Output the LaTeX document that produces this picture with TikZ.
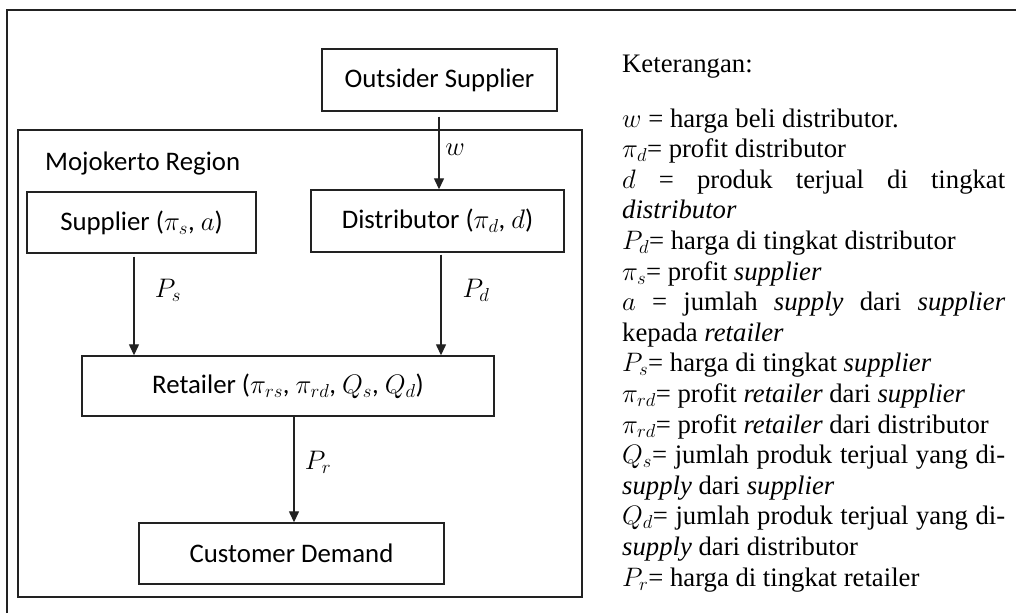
\RequirePackage{fix-cm}
\documentclass[tikz,border=0pt]{standalone}
\usepackage{fontspec}
\setmainfont{Liberation Serif}
\newfontfamily\diagfont{Carlito}
\usetikzlibrary{arrows.meta}
\newcommand\diagsize{\fontsize{26.8}{30}\selectfont}
\newcommand\legsize{\fontsize{26.7}{30.6}\selectfont}
\definecolor{linec}{HTML}{222222}
\begin{document}
\begin{tikzpicture}[x=1pt,y=-1pt,
  box/.style={draw=linec, line width=1.4pt, inner sep=0pt, font=\diagsize\diagfont},
  arr/.style={draw=linec, line width=1.3pt, -{Triangle[length=11pt,width=10pt]}},
  lbl/.style={inner sep=0pt, font=\diagsize},
  legend/.style={anchor=base west, inner sep=0pt, font=\legsize}]
\useasboundingbox (0,0) rectangle (1016,613);
\fill[white] (0,0) rectangle (1016,613);

% outer frame (only top and left edges fall inside the page)
\draw[linec, line width=2.2pt] (7,613) -- (7,10) -- (1016,10);

% region container
\node[box, minimum width=564pt, minimum height=467pt] (region) at (300,363.5) {};
\node[inner sep=0pt, anchor=west, font=\diagsize\diagfont] (regname) at (45,163) {Mojokerto Region};

% actors
\node[box, minimum width=235pt, minimum height=62pt] (out)  at (439.5,80)   {Outsider Supplier};
\node[box, minimum width=229pt, minimum height=61pt] (sup)  at (141.5,222.5) {Supplier ($\pi_s$, $a$)};
\node[box, minimum width=253pt, minimum height=62pt] (dist) at (437.5,221)  {Distributor ($\pi_d$, $d$)};
\node[box, minimum width=412pt, minimum height=60pt] (ret)  at (288,386)    {Retailer ($\pi_{rs}$, $\pi_{rd}$, $Q_s$, $Q_d$)};
\node[box, minimum width=305pt, minimum height=61pt] (cust) at (291.5,553.5) {Customer Demand};

% flows
\draw[arr, shorten <=5pt] ([xshift=-0.5pt]out.south) -- ([xshift=-0.5pt]out.south |- dist.north);
\draw[arr, shorten <=3pt] ([xshift=-7.5pt]sup.south) -- ([xshift=-7.5pt]sup.south |- ret.north);
\draw[arr, shorten <=2pt] ([xshift=3.5pt]dist.south) -- ([xshift=3.5pt]dist.south |- ret.north);
\draw[arr] ([xshift=6pt]ret.south) -- ([xshift=6pt]ret.south |- cust.north);

% flow labels
\node[lbl] (lw)  at (455,150) {$w$};
\node[lbl] (lps) at (168,290) {$P_s$};
\node[lbl] (lpd) at (476,290) {$P_d$};
\node[lbl] (lpr) at (318,462) {$P_r$};

% legend
\node[legend] (ket) at (622,72) {Keterangan:};
\node[legend] (k1)  at (622,127)   {$w$ = harga beli distributor.};
\node[legend] (k2)  at (622,157.6) {$\pi_d$= profit distributor};
\node[legend] (k3)  at (622,188.2) {\makebox[383pt][s]{$d$ = produk terjual di tingkat}};
\node[legend] (k4)  at (622,218.8) {\textit{distributor}};
\node[legend] (k5)  at (622,249.4) {$P_d$= harga di tingkat distributor};
\node[legend] (k6)  at (622,280)   {$\pi_s$= profit \textit{supplier}};
\node[legend] (k7)  at (622,310.6) {\makebox[383pt][s]{$a$ = jumlah \textit{supply} dari \textit{supplier}}};
\node[legend] (k8)  at (622,341.2) {kepada \textit{retailer}};
\node[legend] (k9)  at (622,371.8) {$P_s$= harga di tingkat \textit{supplier}};
\node[legend] (k10) at (622,402.4) {$\pi_{rd}$= profit \textit{retailer} dari \textit{supplier}};
\node[legend] (k11) at (622,433)   {$\pi_{rd}$= profit \textit{retailer} dari distributor};
\node[legend] (k12) at (622,463.6) {\makebox[383pt][s]{$Q_s$= jumlah produk terjual yang di-}};
\node[legend] (k13) at (622,494.2) {\textit{supply} dari \textit{supplier}};
\node[legend] (k14) at (622,524.8) {\makebox[383pt][s]{$Q_d$= jumlah produk terjual yang di-}};
\node[legend] (k15) at (622,555.4) {\textit{supply} dari distributor};
\node[legend] (k16) at (622,586)   {$P_r$= harga di tingkat retailer};
\end{tikzpicture}
\end{document}
